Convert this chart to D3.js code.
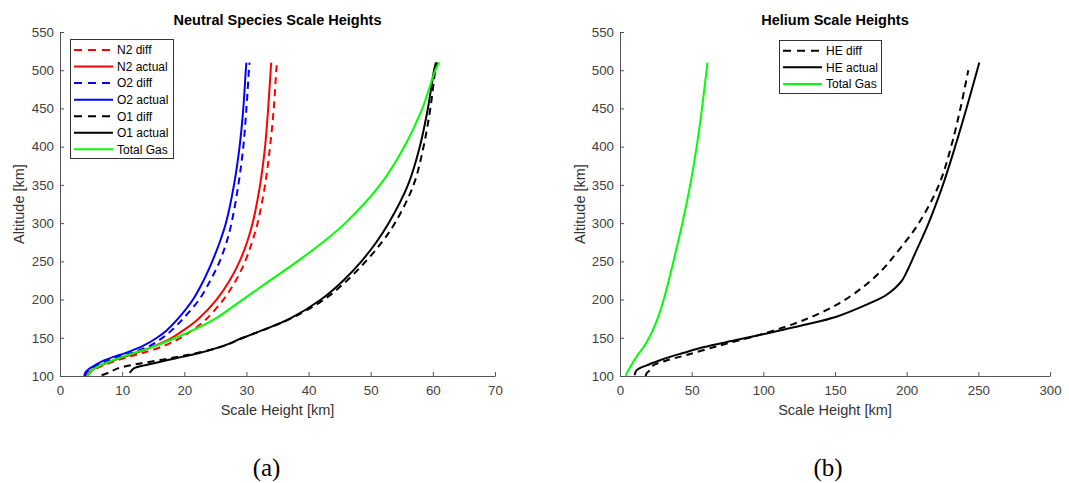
<!DOCTYPE html>
<html>
<head>
<meta charset="utf-8">
<script src="https://cdn.jsdelivr.net/npm/d3@7"></script>
<style>
body{margin:0;background:#fff;}
text{font-family:"Liberation Sans",Arial,sans-serif;}
</style>
</head>
<body>
<div id="chart"></div>
<script>
// altitude grid (km) shared by most curves of panel (a)
var altL     = [100,105,110,115,120,125,130,140,150,160,175,200,225,250,275,300,350,400,450,500,510];
var n2Diff   = [4.4,4.9,5.9,7.3,9.0,11.0,13.3,16.9,19.4,21.3,23.6,26.3,28.3,29.8,30.9,31.8,33.0,33.8,34.4,34.8,34.9];
var n2Actual = [4.3,4.7,5.6,6.9,8.5,10.3,12.2,15.4,18.0,19.9,22.3,25.2,27.3,28.9,30.1,31.0,32.2,33.0,33.5,33.9,34.0];
var o2Diff   = [4.0,4.3,5.1,6.3,7.7,9.4,11.5,14.6,16.5,18.0,19.8,22.4,24.2,25.7,26.8,27.6,28.7,29.5,30.0,30.4,30.5];
var o2Actual = [3.9,4.1,4.8,5.8,7.0,8.6,10.5,13.5,15.6,17.2,19.0,21.4,23.1,24.5,25.7,26.7,28.0,28.9,29.5,29.9,30.0];
var gasL     = [4.4,4.8,5.6,6.8,8.3,10.0,11.9,15.6,18.6,21.4,25.0,29.4,33.8,38.2,42.3,45.9,51.5,55.4,58.3,60.4,61.0];

var altO1Diff = [101,105,110,115,120,125,130,140,150,160,175,200,225,250,275,300,350,400,450,500,510];
var o1Diff    = [6.7,8.0,9.3,12.0,15.5,18.8,22.0,26.6,29.5,32.7,37.1,42.5,46.2,49.2,51.8,53.9,56.9,58.5,59.6,60.4,60.7];
var altO1Act  = [104,106,110,115,120,125,130,140,150,160,175,200,225,250,275,300,350,400,450,500,510];
var o1Actual  = [11.2,11.4,11.9,14.2,16.8,19.6,22.4,26.5,29.4,32.6,37.0,42.0,45.6,48.5,50.9,52.9,56.0,57.9,59.2,60.2,60.5];

// panel (b): helium
var altHeDiff = [100,103,107,114,120,127.5,140,151.5,158,173,193,217,240,260,300,350,400,450,500];
var heDiff    = [18.0,18.4,20.5,23.3,32,46.5,69.8,93,104.7,128,151,170,183.5,192.5,208.5,222.5,231,237.5,243];
var altHeAct  = [101,104,108,114,120,125,130,137.5,147,156.7,166.7,177.6,195,205,215,225,240,260,300,350,400,450,510];
var heActual  = [10.3,10.6,11.8,18.6,27,34.9,44,58,81,104.7,128,151,174,185,192,196.8,201.0,205.8,215.3,225.3,233.8,241.7,250.7];
var altGasR   = [100,104,110,121,130,138,150,167,182,200,240,300,350,400,450,510];
var gasR      = [4.2,4.8,6.6,10.0,13.3,16.5,20.3,24.5,27.5,30.5,36,43.5,49,53.5,57.2,61];

var altTicks = [100,150,200,250,300,350,400,450,500,550];
var xTicksL = [0,10,20,30,40,50,60,70];
var xTicksR = [0,50,100,150,200,250,300];

var svg = d3.select("#chart").append("svg")
            .attr("width", 1069)
            .attr("height", 483);

function zip(alts, vals){
    return alts.map(function(a, i){ return [vals[i], a]; });
}

function panel(o){
    var x = d3.scaleLinear().domain(o.xDomain).range([o.x0, o.x1]);
    var y = d3.scaleLinear().domain([100, 550]).range([376, 32]);
    var g = svg.append("g");

    var xAxis = g.append("g")
        .attr("transform", "translate(0,376)")
        .call(d3.axisBottom(x).tickValues(o.xTicks).tickSizeInner(-4).tickSizeOuter(0).tickPadding(10));
    var yAxis = g.append("g")
        .attr("transform", "translate(" + o.x0 + ",0)")
        .call(d3.axisLeft(y).tickValues(altTicks).tickSizeInner(-4).tickSizeOuter(0).tickPadding(6));
    [xAxis, yAxis].forEach(function(a){
        a.selectAll("path,line").attr("stroke", "#555");
        a.selectAll("text").attr("fill", "#404040").style("font-size", "13.3px")
            .style("font-family", '"Liberation Sans",Arial,sans-serif');
    });

    var line = d3.line()
        .x(function(d){ return x(d[0]); })
        .y(function(d){ return y(d[1]); })
        .curve(d3.curveCatmullRom.alpha(0.5));

    o.series.forEach(function(s){
        g.append("path")
            .attr("d", line(zip(s.alt, s.vals)))
            .attr("fill", "none")
            .attr("stroke", s.color)
            .attr("stroke-width", 2)
            .attr("stroke-dasharray", s.dash ? "7,5" : null);
    });

    g.append("text")
        .attr("x", (o.x0 + o.x1) / 2).attr("y", 24.5)
        .attr("text-anchor", "middle")
        .style("font-size", "14.5px").style("font-weight", "bold")
        .attr("fill", "#000")
        .text(o.title);
    g.append("text")
        .attr("x", (o.x0 + o.x1) / 2).attr("y", 415)
        .attr("text-anchor", "middle")
        .style("font-size", "14.5px")
        .attr("fill", "#333")
        .text("Scale Height [km]");
    g.append("text")
        .attr("transform", "translate(" + o.yLabelX + ",204) rotate(-90)")
        .attr("text-anchor", "middle")
        .style("font-size", "14.5px")
        .attr("fill", "#333")
        .text("Altitude [km]");
    g.append("text")
        .attr("x", o.capX).attr("y", 476)
        .attr("text-anchor", "middle")
        .style("font-family", '"Liberation Serif","Times New Roman",serif')
        .style("font-size", "25px")
        .attr("fill", "#000")
        .text(o.caption);

    // legend
    var lg = o.legend;
    g.append("rect")
        .attr("x", lg.x + 0.5).attr("y", lg.y + 0.5)
        .attr("width", lg.w).attr("height", lg.h)
        .attr("fill", "#fff").attr("stroke", "#333").attr("stroke-width", 1);
    o.series.forEach(function(s, i){
        var ly = lg.firstY + i * lg.step;
        g.append("line")
            .attr("x1", lg.x + 4).attr("x2", lg.x + 43)
            .attr("y1", ly).attr("y2", ly)
            .attr("stroke", s.color).attr("stroke-width", 2)
            .attr("stroke-dasharray", s.dash ? "8,6" : null);
        g.append("text")
            .attr("x", lg.x + 47).attr("y", ly + 4.3)
            .style("font-size", "12px")
            .attr("fill", "#000")
            .text(s.name);
    });
}

panel({
    x0: 60, x1: 495, xDomain: [0, 70], xTicks: xTicksL,
    title: "Neutral Species Scale Heights", yLabelX: 23.5, capX: 266.5, caption: "(a)",
    legend: {x: 70, y: 39, w: 103, h: 119, firstY: 50, step: 16.55},
    series: [
        {name: "N2 diff", alt: altL, vals: n2Diff, color: "#ff0000", dash: true},
        {name: "N2 actual", alt: altL, vals: n2Actual, color: "#ff0000"},
        {name: "O2 diff", alt: altL, vals: o2Diff, color: "#0000ff", dash: true},
        {name: "O2 actual", alt: altL, vals: o2Actual, color: "#0000ff"},
        {name: "O1 diff", alt: altO1Diff, vals: o1Diff, color: "#000", dash: true},
        {name: "O1 actual", alt: altO1Act, vals: o1Actual, color: "#000"},
        {name: "Total Gas", alt: altL, vals: gasL, color: "#00ff00"}
    ]
});

panel({
    x0: 620, x1: 1050, xDomain: [0, 300], xTicks: xTicksR,
    title: "Helium Scale Heights", yLabelX: 585, capX: 828, caption: "(b)",
    legend: {x: 779, y: 40, w: 102, h: 53, firstY: 50.7, step: 16.65},
    series: [
        {name: "HE diff", alt: altHeDiff, vals: heDiff, color: "#000", dash: true},
        {name: "HE actual", alt: altHeAct, vals: heActual, color: "#000"},
        {name: "Total Gas", alt: altGasR, vals: gasR, color: "#00ff00"}
    ]
});
</script>
</body>
</html>
